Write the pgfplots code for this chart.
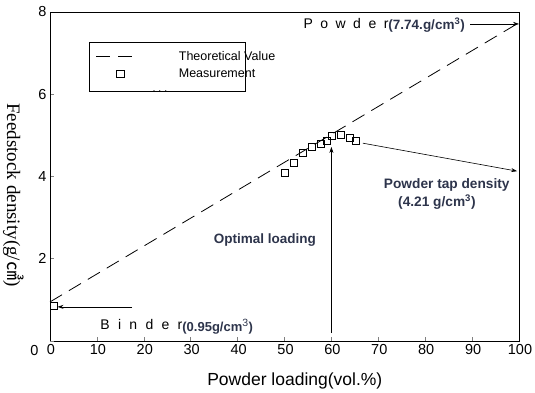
\documentclass[border=0pt]{standalone}
\usepackage{pgfplots}
\pgfplotsset{compat=1.18}
\usepackage{fontspec}
\setmainfont{Liberation Sans}
\newfontfamily\seriff{Liberation Serif}
\newfontfamily\cjk{Noto Sans CJK KR}
\usetikzlibrary{arrows.meta,calc}
\definecolor{annot}{RGB}{45,52,75}
\newcommand{\ls}{\hspace{7.5pt}}
\newcommand{\lsb}{\hspace{8.3pt}}
\pgfplotsset{
  lineleg/.style={legend image code/.code={\draw[##1] (0pt,0pt) -- (36pt,0pt);}},
  markleg/.style={legend image code/.code={\draw[##1] plot coordinates {(24pt,0pt)};}},
}
\begin{document}
\begin{tikzpicture}
\begin{axis}[
  scale only axis, width=469pt, height=329pt,
  xmin=0, xmax=100, ymin=0, ymax=8,
  clip=false,
  axis line style={line width=0.8pt},
  xtick={0,10,...,100}, ytick={2,4,6,8},
  extra y ticks={0},
  extra y tick style={yticklabel style={yshift=-10pt,xshift=-8pt}},
  tick align=inside, xtick pos=bottom, ytick pos=left,
  hide obscured x ticks=false, hide obscured y ticks=false,
  major tick length=4pt,
  tick style={line width=0.6pt},
  tick label style={font=\fontsize{14.5}{16}\selectfont},
  x tick label style={xshift=1pt},
  /pgf/number format/assume math mode=true,
  xlabel={Powder loading(vol.\%)},
  xlabel style={font=\fontsize{17.5}{19}\selectfont, at={(axis description cs:0.522,-0.1216)}, anchor=center},
  ylabel={\seriff Feedstock density(g/{\cjk ㎤})},
  ylabel style={font=\fontsize{19}{21}\selectfont, rotate=180, at={(axis description cs:-0.078,0.444)}, anchor=center},
  legend style={at={(axis cs:8.5,7.25)}, anchor=north west, draw=none, fill=none,
    font=\fontsize{12.5}{14}\selectfont, inner xsep=6pt, inner ysep=6pt, row sep=3.5pt},
  legend cell align=left,
]
\addplot[black, line width=0.8pt, dash pattern=on 14pt off 8pt, lineleg]
  coordinates {(0,0.95) (100,7.74)};
\addlegendentry{\hspace{44pt}Theoretical Value}
\addplot[black, only marks, mark=square, mark size=3.6pt, line width=0.8pt, markleg]
  coordinates {
    (0.8,0.85)
    (50.1,4.09) (52.0,4.33) (54.0,4.57) (55.9,4.72) (57.7,4.79)
    (59.0,4.87) (60.1,4.98) (62.0,5.02) (64.0,4.93) (65.2,4.87)};
\addlegendentry{\hspace{44pt}Measurement}
\addlegendimage{empty legend}
\addlegendentry{\hspace{18pt}\raisebox{0pt}[5pt][0pt]{\small . . .}}

% legend frame (narrower than its text, as in the reference)
\draw[line width=0.8pt] (axis cs:8.5,7.25) rectangle (axis cs:41.6,6.06);

% annotations
\node[anchor=base west, font=\fontsize{14}{16}\selectfont] at (axis cs:53.3,7.59)
  {P\ls o\ls w\ls d\ls e\ls r{\raisebox{-1pt}{\fontsize{13.5}{15}\selectfont\bfseries\color{annot}(7.74.g/cm\textsuperscript{3})}}};
\draw[-{Stealth[length=6pt,width=4pt]}, line width=0.6pt] (axis cs:89.6,7.71) -- (axis cs:100,7.71);

\node[anchor=base west, font=\fontsize{14}{16}\selectfont] at (axis cs:10,0.27)
  {B\lsb i\lsb n\lsb d\lsb e\lsb r{\raisebox{-2pt}{\fontsize{13}{15}\selectfont\color{annot}\textbf{(0.95g/cm}{\fontsize{15}{16}\selectfont\textsuperscript{3}}\textbf{)}}}};
\draw[-{Stealth[length=6pt,width=4pt]}, line width=0.6pt] (axis cs:17.5,0.83) -- (axis cs:1.6,0.83);

\draw[-{Stealth[length=6pt,width=4pt]}, line width=0.6pt] (axis cs:60,0.19) -- (axis cs:60,4.72);
\node[font=\fontsize{13.5}{15}\selectfont\bfseries, text=annot] at (axis cs:45.8,2.46) {Optimal loading};

\draw[-{Stealth[length=6pt,width=4pt]}, line width=0.6pt] (axis cs:66.7,4.81) -- (axis cs:99.6,4.13);
\node[font=\fontsize{13.7}{15}\selectfont\bfseries, text=annot] at (axis cs:84.6,3.79) {Powder tap density};
\node[font=\fontsize{13.7}{15}\selectfont\bfseries, text=annot] at (axis cs:82.5,3.38) {(4.21 g/cm\textsuperscript{3})};
\end{axis}
\pgfresetboundingbox
\useasboundingbox ($(current axis.south west)+(-50pt,-52pt)$) rectangle ($(current axis.north east)+(16pt,12pt)$);
\end{tikzpicture}
\end{document}
